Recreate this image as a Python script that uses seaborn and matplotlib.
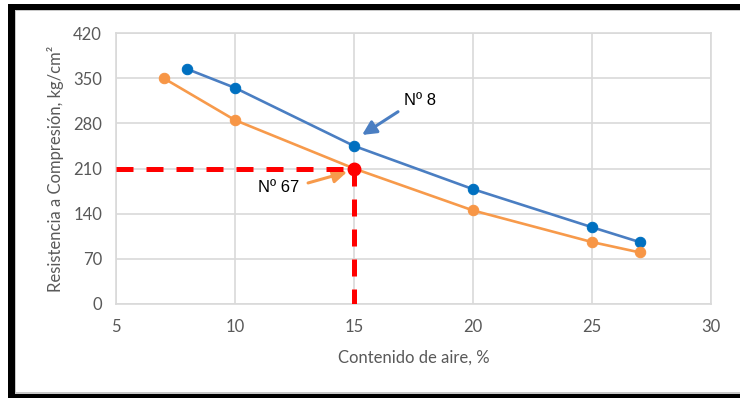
import matplotlib
matplotlib.use("Agg")
import matplotlib.pyplot as plt
from matplotlib.patches import Rectangle
import pandas as pd
import seaborn as sns

# Air content (%) vs. compressive strength (kg/cm²) for two sieve sizes
air_n8 = [8, 10, 15, 20, 25, 27]
strength_n8 = [364, 335, 245, 178, 119, 96]
air_n67 = [7, 10, 15, 20, 25, 27]
strength_n67 = [350, 285, 210, 145, 96, 80]

series_names = ["Nº 8", "Nº 67"]
x_ticks = [5, 10, 15, 20, 25, 30]
y_ticks = [0, 70, 140, 210, 280, 350, 420]

# design point
design_air = 15
design_strength = 210

df = pd.concat([
    pd.DataFrame({"aire": air_n8, "resistencia": strength_n8, "serie": series_names[0]}),
    pd.DataFrame({"aire": air_n67, "resistencia": strength_n67, "serie": series_names[1]}),
])

sns.set_theme(style="whitegrid")
plt.rcParams["font.family"] = ["Lato", "DejaVu Sans"]

W, H = 740, 398
fig = plt.figure(figsize=(W / 100, H / 100), dpi=100)
fig.patch.set_facecolor("white")

ax = fig.add_axes([116 / W, (H - 304) / H, (711 - 116) / W, (304 - 33) / H])

blue_line, blue_mark = "#4A7EC2", "#0070C0"
orange_line, orange_mark = "#F79A4B", "#F79646"

for name, lc, mc in [(series_names[0], blue_line, blue_mark),
                     (series_names[1], orange_line, orange_mark)]:
    sub = df[df["serie"] == name]
    sns.lineplot(data=sub, x="aire", y="resistencia", ax=ax, color=lc,
                 linewidth=1.9, marker="o", markersize=7.5,
                 markerfacecolor=mc, markeredgecolor=mc, legend=False,
                 zorder=3)

# reference lines to the design point
red = "#FF0000"
ax.plot([x_ticks[0], design_air], [design_strength, design_strength],
        color=red, linewidth=3.6, dashes=(3.4, 2.6), zorder=4,
        solid_capstyle="butt", dash_capstyle="butt")
ax.plot([design_air, design_air], [design_strength, y_ticks[0]],
        color=red, linewidth=3.6, dashes=(3.4, 2.6), zorder=4,
        solid_capstyle="butt", dash_capstyle="butt")
ax.plot([design_air], [design_strength], marker="o", markersize=9,
        color=red, zorder=5)

ax.set_xlim(x_ticks[0], x_ticks[-1])
ax.set_ylim(y_ticks[0], y_ticks[-1])
ax.set_xticks(x_ticks)
ax.set_yticks(y_ticks)

tick_col = "#595959"
ax.tick_params(axis="both", length=0, labelsize=12, colors=tick_col)
ax.tick_params(axis="x", pad=11)
ax.tick_params(axis="y", pad=10)
ax.grid(True, color="#D9D9D9", linewidth=1.2)
for sp in ax.spines.values():
    sp.set_visible(True)
    sp.set_color("#D9D9D9")
    sp.set_linewidth(1.2)

ax.set_xlabel("Contenido de aire, %", fontsize=12, color=tick_col, labelpad=10)
ax.set_ylabel("Resistencia a Compresión, kg/cm²", fontsize=12, color=tick_col,
              labelpad=7)

# series callouts: label text plus an arrow pointing at the curve
arrow_style = "-|>,head_length=0.7,head_width=0.35"
label_font = ["Liberation Sans", "DejaVu Sans"]

ax.text(17.77, 316, series_names[0], fontsize=12, color="black",
        ha="center", va="center", family=label_font)
ax.annotate("", xy=(15.34, 262), xytext=(16.85, 298),
            arrowprops=dict(arrowstyle=arrow_style, color=blue_line,
                            linewidth=2.2, shrinkA=0, shrinkB=0))

ax.text(11.85, 180, series_names[1], fontsize=12, color="black",
        ha="center", va="center", family=label_font)
ax.annotate("", xy=(14.71, 204.6), xytext=(13.07, 187.6),
            arrowprops=dict(arrowstyle=arrow_style, color=orange_line,
                            linewidth=2.2, shrinkA=0, shrinkB=0))

# black frame around the figure (open on the right)
def px_rect(x0, y0, x1, y1, color):
    fig.add_artist(Rectangle((x0 / W, (H - y1) / H), (x1 - x0) / W, (y1 - y0) / H,
                             transform=fig.transFigure, facecolor=color,
                             edgecolor="none", zorder=10))

px_rect(8, 3.5, W, 9.5, "black")
px_rect(8, 3.5, 14.5, H, "black")
px_rect(8, 394, W, H, "black")
px_rect(14.5, 9.5, W, 10.5, "#C8C8C8")
px_rect(14.5, 9.5, 15.5, 394, "#C8C8C8")
px_rect(14.5, 392, W, 393.5, "#C8C8C8")

fig.savefig("out.png", dpi=100, facecolor="white")
